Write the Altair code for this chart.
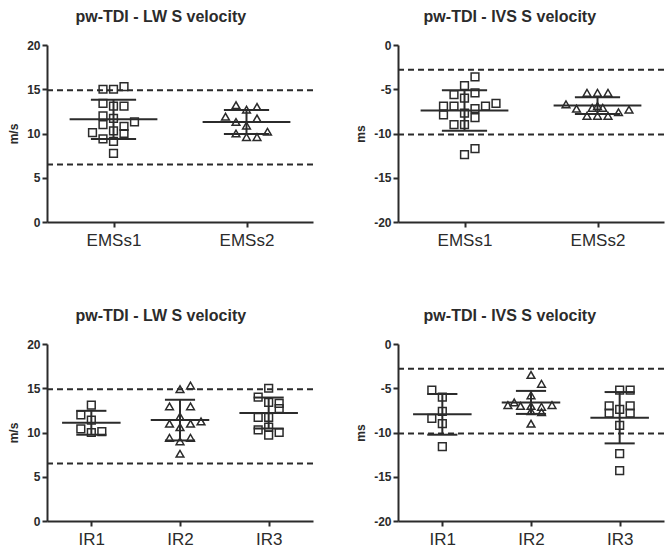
import json
import altair as alt
import pandas as pd

FONT = "Liberation Sans"
INK = "#2b2b2b"

# ---------------- data ----------------
# Panel A: pw-TDI - LW S velocity, EMS groups
a_cats = ["EMSs1", "EMSs2"]
a_vals = [
    [15.0, 15.0, 15.3, 13.4, 13.1, 13.1, 12.0, 11.7, 11.0, 11.3, 10.8, 10.3, 10.0, 10.1, 9.4, 9.1, 7.75],
    [13.2, 12.7, 13.0, 11.9, 11.3, 10.9, 11.7, 10.0, 9.6, 9.6, 10.2],
]
a_lanes = [
    [-1, 0, 1, -1, 0, 1, -1, 0, -1, 2, 1, 0, 1, -2, -1, 0, 0],
    [-1, 0, 1, -2, -1, 0, 1, -1, 0, 1, 2],
]
a_mean = [11.6, 11.3]
a_sd = [2.22, 1.35]
a_shapes = ["square", "triangle-up"]

# Panel B: pw-TDI - IVS S velocity, EMS groups
b_cats = ["EMSs1", "EMSs2"]
b_vals = [
    [-3.6, -4.6, -5.4, -5.6, -6.0, -6.9, -6.9, -7.2, -6.9, -6.6, -7.9, -7.7, -8.2, -9.0, -9.0, -12.4, -11.7],
    [-5.4, -5.4, -5.4, -6.7, -7.2, -7.1, -6.9, -7.1, -7.6, -7.3, -8.0, -8.0, -8.0],
]
b_lanes = [
    [1, 0, 1, -1, 0, -1, -2, 1, 2, 3, -2, 0, 1, -1, 0, 0, 1],
    [-1, 0, 1, -3, -2, -0.5, 0, 0.5, 2, 3, -1, 0, 1],
]
b_mean = [-7.4, -6.85]
b_sd = [2.3, 0.95]
b_shapes = ["square", "triangle-up"]

# Panel C: pw-TDI - LW S velocity, IR groups
c_cats = ["IR1", "IR2", "IR3"]
c_vals = [
    [13.1, 12.0, 11.4, 10.4, 10.0, 10.1],
    [14.9, 15.3, 12.95, 12.95, 11.8, 11.0, 10.6, 11.0, 11.25, 9.4, 9.0, 9.4, 7.6],
    [15.0, 14.0, 13.4, 13.3, 12.7, 11.7, 11.7, 10.6, 10.3, 10.0, 9.7],
]
c_lanes = [
    [0, -1, 0, -1, 0, 1],
    [0, 1, -1, 1, 0, -1, 0, 1, 2, -1, 0, 1, 0],
    [0, -1, 0, 1, 1, -1, 0, 0, -1, 1, 0],
]
c_mean = [11.1, 11.4, 12.2]
c_sd = [1.35, 2.3, 1.75]
c_shapes = ["square", "triangle-up", "triangle-up"]

# Panel D: pw-TDI - IVS S velocity, IR groups
d_cats = ["IR1", "IR2", "IR3"]
d_vals = [
    [-5.2, -6.0, -7.6, -8.4, -9.0, -11.6],
    [-3.5, -4.5, -5.8, -6.9, -6.6, -7.0, -7.0, -7.1, -6.9, -7.6, -7.7, -9.0],
    [-5.2, -5.2, -7.0, -7.8, -7.4, -7.0, -7.8, -9.2, -12.4, -14.3],
]
d_lanes = [
    [-1, 0, 0, -1, 0, 0],
    [0, 1, 0, -2.2, -1.6, -1, 0, 1, 2, 0, 1, 0],
    [0, 1, -1, -1, 0, 1, 1, 0, 0, 0],
]
d_mean = [-7.95, -6.6, -8.33]
d_sd = [2.3, 1.3, 2.9]
d_shapes = ["square", "circle", "triangle-up"]

lw_refs = [14.9, 6.5]
ivs_refs = [-2.8, -10.1]
lw_ticks = [0, 5, 10, 15, 20]
ivs_ticks = [0, -5, -10, -15, -20]

W = 266
H = 177


def panel(title, ytitle, cats, vals, lanes, means, sds, shapes, refs, ydomain, yticks):
    n = len(cats)
    lane_unit = 10.5 / (W / n)
    rows = []
    for i, (c, vs, ls) in enumerate(zip(cats, vals, lanes)):
        for v, l in zip(vs, ls):
            rows.append({"cat": c, "value": v, "pos": i + 1 + l * lane_unit})
    pts = pd.DataFrame(rows)
    summ = pd.DataFrame({"cat": cats, "idx": list(range(1, n + 1)), "mean": means, "sd": sds})
    refdf = pd.DataFrame({"ref": refs})

    label_expr = json.dumps(cats) + "[datum.value - 1]"
    xscale = alt.Scale(domain=[0.5, n + 0.5], nice=False, zero=False)
    yscale = alt.Scale(domain=ydomain, nice=False, zero=False)
    xaxis = alt.Axis(values=list(range(1, n + 1)), labelExpr=label_expr, title=None, grid=False)
    yaxis = alt.Axis(values=yticks, title=ytitle, grid=False, labelExpr="'' + datum.value")

    def xq(field):
        return alt.X(field, type="quantitative", scale=xscale, axis=xaxis)

    def yq(field):
        return alt.Y(field, type="quantitative", scale=yscale, axis=yaxis)

    ref_layer = alt.Chart(refdf).mark_rule(
        strokeDash=[6, 4], strokeWidth=2, color=INK
    ).encode(y=yq("ref"))

    points = alt.Chart(pts).mark_point(
        filled=False, size=60, strokeWidth=1.5, color=INK, opacity=1
    ).encode(
        x=xq("pos"),
        y=yq("value"),
        shape=alt.Shape("cat:N", scale=alt.Scale(domain=cats, range=shapes), legend=None),
    )

    base = alt.Chart(summ).transform_calculate(
        lo="datum.mean - datum.sd",
        hi="datum.mean + datum.sd",
        m0="datum.idx - 0.33",
        m1="datum.idx + 0.33",
        s0="datum.idx - 0.17",
        s1="datum.idx + 0.17",
    )
    mean_line = base.mark_rule(strokeWidth=2, color=INK).encode(
        x=xq("m0"), x2="m1:Q", y=yq("mean"))
    sd_hi = base.mark_rule(strokeWidth=2, color=INK).encode(
        x=xq("s0"), x2="s1:Q", y=yq("hi"))
    sd_lo = base.mark_rule(strokeWidth=2, color=INK).encode(
        x=xq("s0"), x2="s1:Q", y=yq("lo"))
    vert = base.mark_rule(strokeWidth=2, color=INK).encode(
        x=xq("idx"), y=yq("lo"), y2="hi:Q")

    return alt.layer(ref_layer, points, mean_line, sd_hi, sd_lo, vert).properties(
        width=W,
        height=H,
        title=alt.TitleParams(text=title, anchor="middle", frame="bounds", offset=14),
    )


pA = panel("pw-TDI - LW S velocity", "m/s", a_cats, a_vals, a_lanes, a_mean, a_sd, a_shapes,
           lw_refs, [0, 20], lw_ticks)
pB = panel("pw-TDI - IVS S velocity", "ms", b_cats, b_vals, b_lanes, b_mean, b_sd, b_shapes,
           ivs_refs, [-20, 0], ivs_ticks)
pC = panel("pw-TDI - LW S velocity", "m/s", c_cats, c_vals, c_lanes, c_mean, c_sd, c_shapes,
           lw_refs, [0, 20], lw_ticks)
pD = panel("pw-TDI - IVS S velocity", "ms", d_cats, d_vals, d_lanes, d_mean, d_sd, d_shapes,
           ivs_refs, [-20, 0], ivs_ticks)

chart = alt.vconcat(
    alt.hconcat(pA, pB, spacing=40),
    alt.hconcat(pC, pD, spacing=40),
    spacing=60,
).properties(
    padding={"left": 7, "top": 9, "right": 0, "bottom": 0},
    background="white",
).configure_view(
    stroke=None
).configure_axis(
    domainColor=INK, domainWidth=2, tickColor=INK, tickWidth=2, tickSize=5,
    labelColor=INK, titleColor=INK, labelFont=FONT, titleFont=FONT, grid=False,
).configure_axisY(
    labelFontWeight="bold", labelFontSize=12, labelPadding=2,
    titleFontSize=12, titleFontWeight="bold", titlePadding=6,
).configure_axisX(
    labelFontSize=17, labelPadding=5, labelFontWeight="normal",
).configure_title(
    font=FONT, fontSize=16, fontWeight="bold", color=INK,
)

chart.save("out.html", embed_options={"renderer": "svg", "actions": False})
